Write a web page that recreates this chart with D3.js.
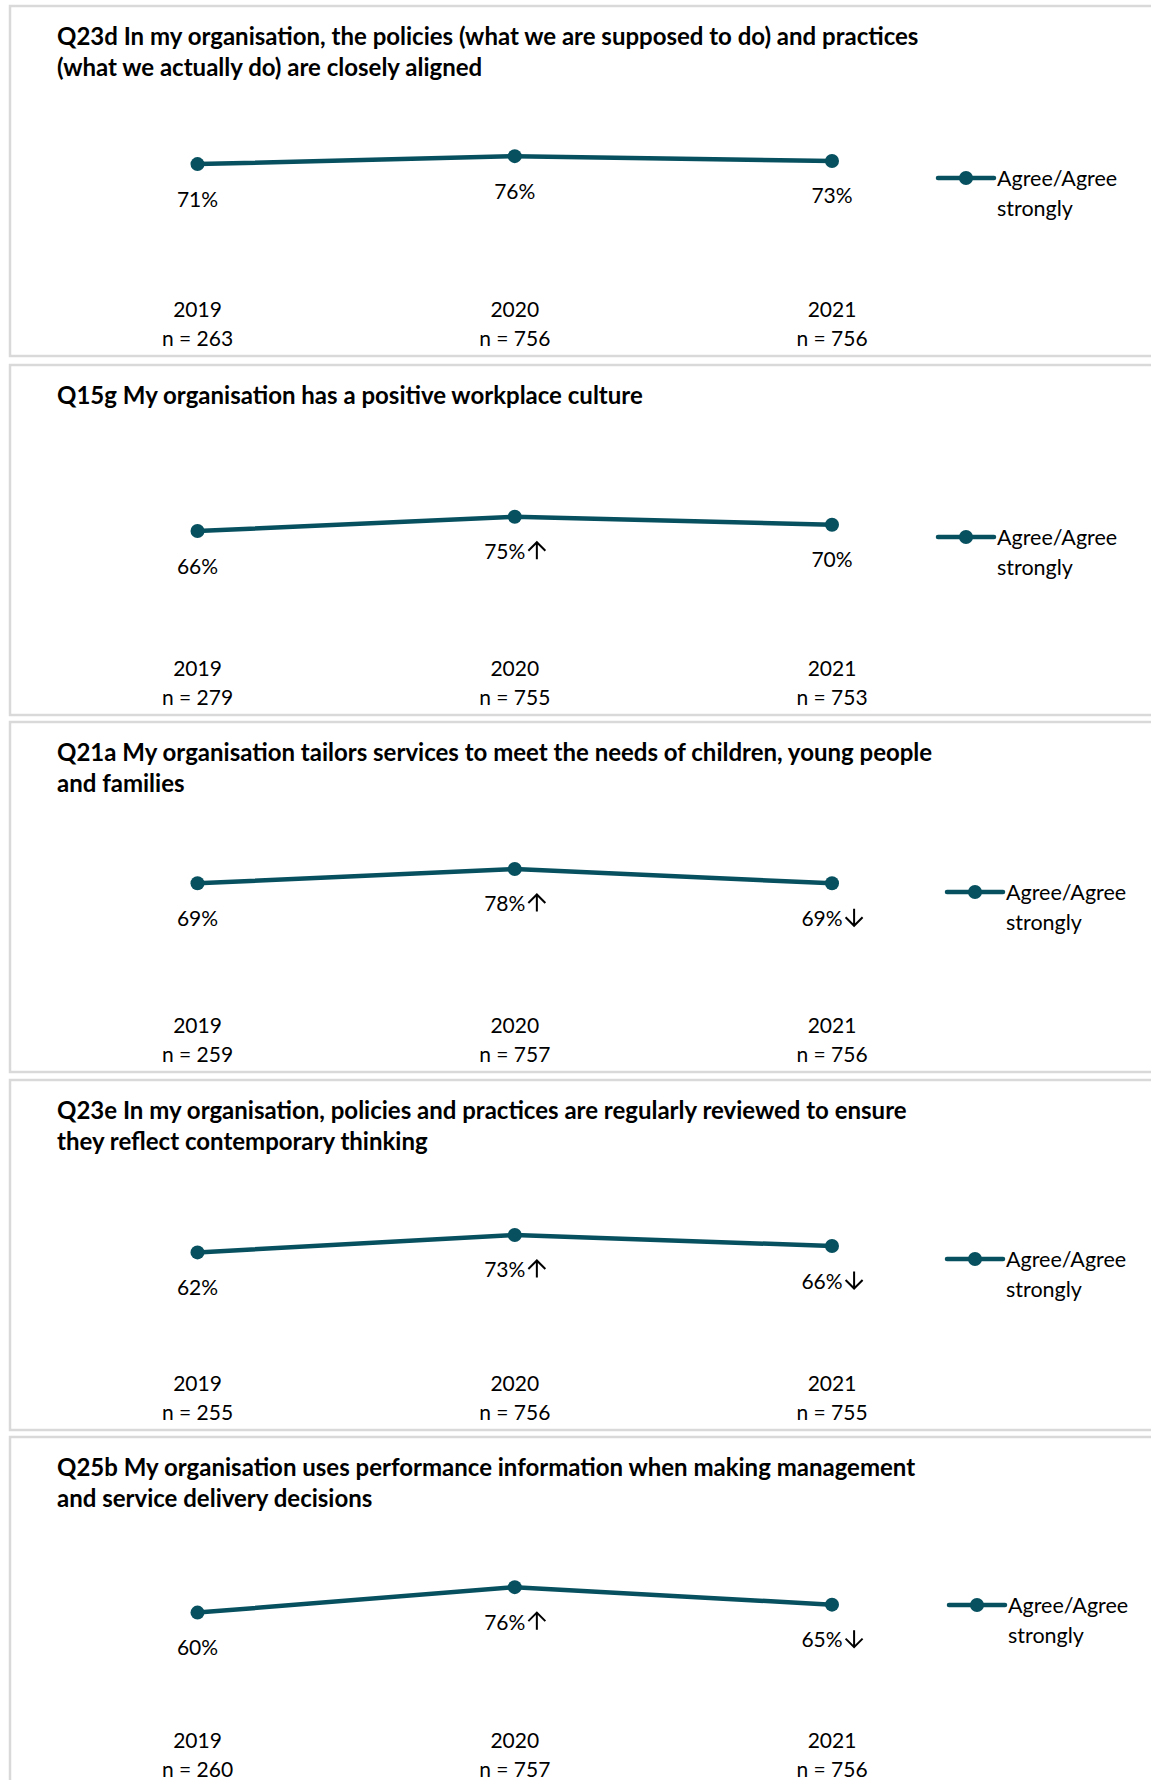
<!DOCTYPE html>
<html>
<head>
<meta charset="utf-8">
<script src="https://cdn.jsdelivr.net/npm/d3@7"></script>
<style>
  html, body { margin: 0; padding: 0; background: #fff; }
  svg { display: block; }
  text { font-family: Lato, "Open Sans", sans-serif; fill: #000; }
</style>
</head>
<body>
<svg id="chart" width="1151" height="1780"></svg>
<script>
// ---- data ----
const years = ["2019", "2020", "2021"];
const titles = [
  ["Q23d In my organisation, the policies (what we are supposed to do) and practices", "(what we actually do) are closely aligned"],
  ["Q15g My organisation has a positive workplace culture"],
  ["Q21a My organisation tailors services to meet the needs of children, young people", "and families"],
  ["Q23e In my organisation, policies and practices are regularly reviewed to ensure", "they reflect contemporary thinking"],
  ["Q25b My organisation uses performance information when making management", "and service delivery decisions"]
];
const agreeValues = [
  [71, 76, 73],
  [66, 75, 70],
  [69, 78, 69],
  [62, 73, 66],
  [60, 76, 65]
];
const significance = [
  ["", "", ""],
  ["", "up", ""],
  ["", "up", "down"],
  ["", "up", "down"],
  ["", "up", "down"]
];
const sampleSizes = [
  [263, 756, 756],
  [279, 755, 753],
  [259, 757, 756],
  [255, 756, 755],
  [260, 757, 756]
];
const seriesName = ["Agree/Agree", "strongly"];

// ---- layout ----
const panelTops = [6, 365, 722, 1080, 1437];
const panelH = 350;
const legendX = [938, 938, 947, 947, 949];
const legendDY = [172, 172, 170, 179, 168];
const lineColor = "#07505f";
const arrowW = 17, arrowH = 17, arrowGap = 3;

const svg = d3.select("#chart");
const x = d3.scalePoint().domain(years).range([197.5, 832]);

titles.forEach((t, i) => {
  const top = panelTops[i];
  const g = svg.append("g").attr("transform", `translate(0,${top})`);

  g.append("rect")
    .attr("x", 10).attr("y", 0)
    .attr("width", 1200).attr("height", panelH)
    .attr("fill", "#fff")
    .attr("stroke", "#d9d9d9").attr("stroke-width", 2.5);

  // title
  const tt = g.append("text")
    .attr("x", 57).attr("y", 29)
    .attr("font-size", 24).attr("font-weight", 700)
    .attr("dominant-baseline", "central");
  t.forEach((line, k) => {
    tt.append("tspan").attr("x", 57).attr("dy", k === 0 ? 0 : 31).text(line);
  });

  const y = d3.scaleLinear().domain([0, 100]).range([271, 112]);
  const pts = years.map((yr, j) => ({ yr, v: agreeValues[i][j], s: significance[i][j], n: sampleSizes[i][j] }));

  g.append("path")
    .datum(pts)
    .attr("fill", "none")
    .attr("stroke", lineColor)
    .attr("stroke-width", 4.5)
    .attr("stroke-linejoin", "round")
    .attr("d", d3.line().x(d => x(d.yr)).y(d => y(d.v)));

  g.selectAll("circle.pt").data(pts).enter().append("circle")
    .attr("class", "pt")
    .attr("cx", d => x(d.yr)).attr("cy", d => y(d.v))
    .attr("r", 7).attr("fill", lineColor);

  // value labels (with significance arrows)
  pts.forEach(d => {
    const lg = g.append("g");
    const txt = lg.append("text")
      .attr("y", y(d.v) + 34)
      .attr("text-anchor", "start").attr("dominant-baseline", "central")
      .attr("font-size", 21).text(d.v + "%");
    const tw = txt.node().getComputedTextLength();
    const total = tw + (d.s ? arrowGap + arrowW : 0);
    const x0 = x(d.yr) - total / 2;
    txt.attr("x", x0);
    if (d.s) {
      const ax = x0 + tw + arrowGap + arrowW / 2;
      const cy = y(d.v) + 34;
      const yTop = cy - arrowH / 2, yBot = cy + arrowH / 2;
      const tip = d.s === "up" ? yTop : yBot;
      const tail = d.s === "up" ? yBot : yTop;
      const dir = d.s === "up" ? 1 : -1;
      lg.append("path")
        .attr("d", `M${ax},${tail}L${ax},${tip}M${ax - arrowW / 2},${tip + dir * arrowW / 2}L${ax},${tip}L${ax + arrowW / 2},${tip + dir * arrowW / 2}`)
        .attr("fill", "none").attr("stroke", "#000").attr("stroke-width", 2)
        .attr("stroke-linejoin", "miter").attr("stroke-linecap", "butt");
    }
  });

  // category axis labels
  g.selectAll("text.yr").data(pts).enter().append("text")
    .attr("x", d => x(d.yr)).attr("y", 302)
    .attr("text-anchor", "middle").attr("dominant-baseline", "central")
    .attr("font-size", 21).text(d => d.yr);
  g.selectAll("text.n").data(pts).enter().append("text")
    .attr("x", d => x(d.yr)).attr("y", 331)
    .attr("text-anchor", "middle").attr("dominant-baseline", "central")
    .attr("font-size", 21).text(d => "n = " + d.n);

  // legend
  const lx = legendX[i], ly = legendDY[i];
  g.append("line")
    .attr("x1", lx).attr("x2", lx + 56).attr("y1", ly).attr("y2", ly)
    .attr("stroke", lineColor).attr("stroke-width", 4.5).attr("stroke-linecap", "round");
  g.append("circle").attr("cx", lx + 28).attr("cy", ly).attr("r", 7).attr("fill", lineColor);
  const lt = g.append("text")
    .attr("x", lx + 59).attr("y", ly)
    .attr("dominant-baseline", "central").attr("font-size", 21.5);
  seriesName.forEach((s, k) => {
    lt.append("tspan").attr("x", lx + 59).attr("dy", k === 0 ? 0 : 29.5).text(s);
  });
});
</script>
</body>
</html>
